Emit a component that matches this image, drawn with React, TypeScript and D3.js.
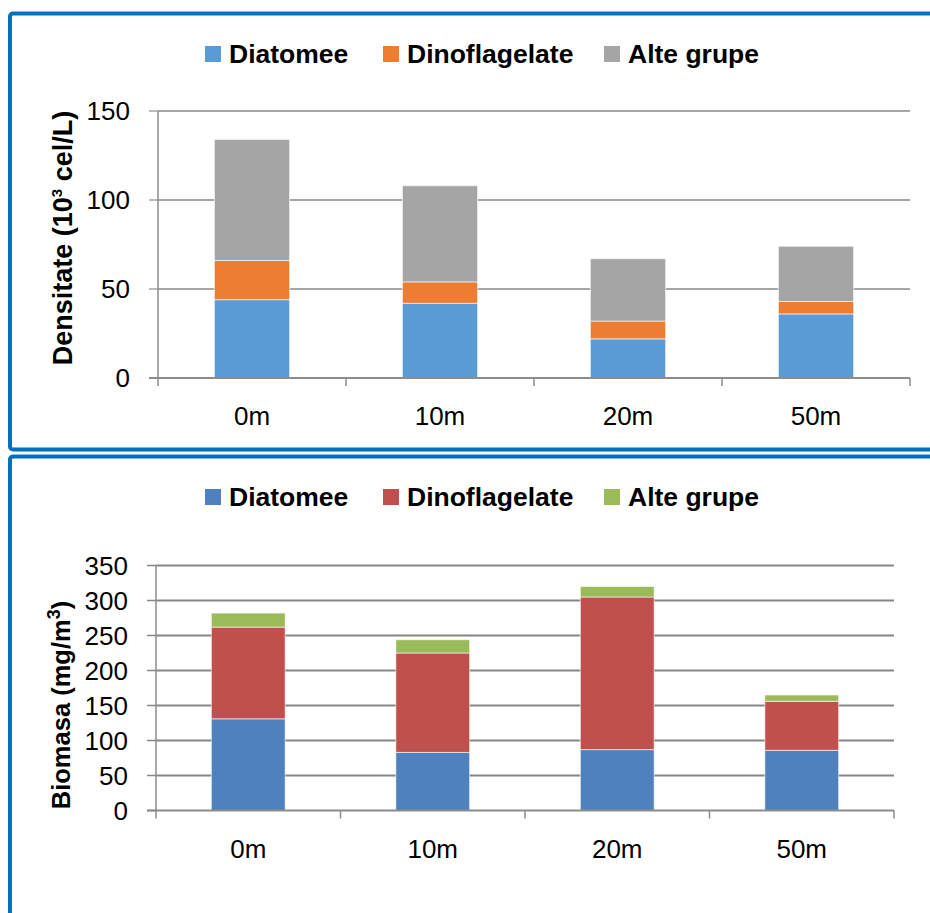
import React from 'react';
import * as d3 from 'd3';

const categories = ['0m', '10m', '20m', '50m'];
const seriesNames = ['Diatomee', 'Dinoflagelate', 'Alte grupe'];

const densDiatomee = [44, 42, 22, 36];
const densDino = [22, 12, 10, 7];
const densAlte = [68, 54, 35, 31];
const densTicks = [0, 50, 100, 150];

const bioDiatomee = [131, 83, 87, 86];
const bioDino = [131, 142, 218, 70];
const bioAlte = [20, 19, 15, 9];
const bioTicks = [0, 50, 100, 150, 200, 250, 300, 350];

const topColors = ['#5B9BD5', '#ED7D31', '#A5A5A5'];
const bottomColors = ['#4F81BD', '#C0504D', '#9BBB59'];

const FONT = '"Liberation Sans", Arial, sans-serif';

type PanelProps = {
  values: number[][];
  ticks: number[];
  colors: string[];
  x0: number; x1: number; y0: number; y1: number;
  legendY: number;
  catLabelY: number;
  tickLabelX: number;
  gridColor: string;
  title: React.ReactNode;
  titleX: number; titleY: number; titleSize: number;
};

function Panel(p: PanelProps) {
  const maxV = p.ticks[p.ticks.length - 1];
  const x = d3.scaleBand<string>().domain(categories).range([p.x0, p.x1]).paddingInner(0.6).paddingOuter(0.3);
  const y = d3.scaleLinear().domain([0, maxV]).range([p.y0, p.y1]);
  const rows = categories.map((c, i) => ({ cat: c, a: p.values[0][i], b: p.values[1][i], c2: p.values[2][i] }));
  const stack = d3.stack<any>().keys(['a', 'b', 'c2'])(rows);
  const step = x.step();
  const legendXs = [205, 383, 604];
  return (
    <g>
      {p.ticks.map((t) => (
        <g key={t}>
          {t > 0 && <line x1={p.x0} x2={p.x1} y1={y(t)} y2={y(t)} stroke={p.gridColor} strokeWidth={2} />}
          <line x1={p.x0 - 9} x2={p.x0} y1={y(t)} y2={y(t)} stroke={p.gridColor} strokeWidth={1.5} />
          <text x={p.tickLabelX} y={y(t)} dy="0.35em" textAnchor="end" fontFamily={FONT} fontSize={26} fill="#000">{t}</text>
        </g>
      ))}
      {stack.map((s, si) => (
        <g key={si}>
          {s.map((d, i) => (
            <rect key={i} x={x(categories[i])} width={x.bandwidth()} y={y(d[1])} height={y(d[0]) - y(d[1])}
              fill={p.colors[si]} stroke="#ffffff" strokeOpacity={0.6} strokeWidth={1} />
          ))}
        </g>
      ))}
      <line x1={p.x0} x2={p.x0} y1={y(maxV)} y2={p.y0 + 8} stroke="#8c8c8c" strokeWidth={1.5} />
      <line x1={p.x0 - 9} x2={p.x1} y1={p.y0} y2={p.y0} stroke="#8c8c8c" strokeWidth={2} />
      {categories.map((c, i) => (
        <line key={c} x1={p.x0 + step * (i + 1)} x2={p.x0 + step * (i + 1)} y1={p.y0} y2={p.y0 + 8} stroke="#8c8c8c" strokeWidth={1.5} />
      ))}
      {categories.map((c) => (
        <text key={c} x={(x(c) as number) + x.bandwidth() / 2} y={p.catLabelY} dy="0.35em" textAnchor="middle" fontFamily={FONT} fontSize={26} fill="#000">{c}</text>
      ))}
      {seriesNames.map((n, i) => (
        <g key={n}>
          <rect x={legendXs[i]} y={p.legendY - 8} width={16} height={16} fill={p.colors[i]} />
          <text x={legendXs[i] + 24} y={p.legendY} dy="0.35em" fontFamily={FONT} fontWeight="bold" fontSize={26.5} fill="#000">{n}</text>
        </g>
      ))}
      <text transform={`translate(${p.titleX},${p.titleY}) rotate(-90)`} textAnchor="middle" fontFamily={FONT} fontWeight="bold" fontSize={p.titleSize} fill="#000">{p.title}</text>
    </g>
  );
}

export default function App() {
  return (
    <svg width={930} height={913} style={{ position: 'absolute', left: 0, top: 0, background: '#fff' }}>
      <rect x={0} y={0} width={930} height={913} fill="#fff" />
      <rect x={10} y={13.5} width={940} height={436} rx={3} fill="none" stroke="#0070C0" strokeWidth={4} />
      <rect x={10} y={456.5} width={940} height={480} rx={3} fill="none" stroke="#0070C0" strokeWidth={4} />
      <Panel
        values={[densDiatomee, densDino, densAlte]}
        ticks={densTicks}
        colors={topColors}
        x0={158} x1={910} y0={378} y1={111}
        legendY={54}
        catLabelY={416}
        tickLabelX={130}
        gridColor="#a6a6a6"
        title={<>Densitate (10<tspan fontSize={15} dy={-10}>3</tspan><tspan dy={10}> cel/L)</tspan></>}
        titleX={72} titleY={238} titleSize={27}
      />
      <Panel
        values={[bioDiatomee, bioDino, bioAlte]}
        ticks={bioTicks}
        colors={bottomColors}
        x0={156} x1={894} y0={810.5} y1={565.5}
        legendY={497}
        catLabelY={849}
        tickLabelX={128}
        gridColor="#868686"
        title={<>Biomasa (mg/m<tspan fontSize={18} dy={-10}>3</tspan><tspan dy={10}>)</tspan></>}
        titleX={70} titleY={705} titleSize={25.5}
      />
    </svg>
  );
}
